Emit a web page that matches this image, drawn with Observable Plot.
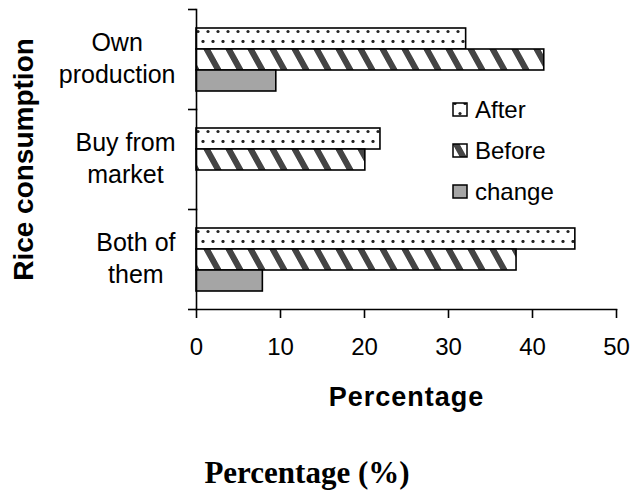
<!DOCTYPE html>
<html>
<head>
<meta charset="utf-8">
<script src="https://cdn.jsdelivr.net/npm/d3@7"></script>
<script src="https://cdn.jsdelivr.net/npm/@observablehq/plot@0.6"></script>
<style>
  body { margin: 0; background: #fff; }
  #wrap { position: relative; width: 630px; height: 492px; overflow: hidden; font-family: "Liberation Sans", Arial, sans-serif; color: #000; }
  #caption { position: absolute; left: 0; top: 455px; width: 614px; text-align: center; font: bold 31px "Liberation Serif", "Times New Roman", serif; line-height: 36px; }
  #legend { position: absolute; left: 452px; top: 89px; font-size: 24px; }
  #legend .row { display: flex; align-items: center; height: 41px; }
  #legend svg { margin-right: 7px; }
  g[aria-label="x-axis label"] text { font-weight: bold; font-size: 27px; letter-spacing: 1px; }
  g[aria-label="fy-axis label"] text { font-weight: bold; font-size: 28px; }
</style>
</head>
<body>
<div id="wrap">
  <div id="chart"></div>
  <div id="legend"></div>
  <div id="caption"></div>
</div>
<script>
// ---- data ----
const categories = ["Own production", "Buy from market", "Both of them"];
const categoryLines = [["Own", "production"], ["Buy from", "market"], ["Both of", "them"]];
const series = ["After", "Before", "change"];
const afterValues = [32.1, 21.9, 45.1];
const beforeValues = [41.4, 20.1, 38.1];
const changeValues = [9.5, null, 7.9];
const xTicks = [0, 10, 20, 30, 40, 50];
const xLabel = "Percentage";
const yLabel = "Rice consumption";
const captionText = "Percentage (%)";

// ---- table ----
const valuesBySeries = {After: afterValues, Before: beforeValues, change: changeValues};
const rows = categories.flatMap((cat, i) =>
  series.map(s => ({cat, series: s, value: valuesBySeries[s][i]}))
).filter(d => d.value != null);

// ---- layout ----
const W = 630, H = 430;
const mt = 9, mb = 121, ml = 196, mr = 14;
const band = (H - mt - mb) / categories.length;
const labelFont = 25;
const labelGap = 21;

const ctx = document.createElement("canvas").getContext("2d");
ctx.font = `${labelFont}px "Liberation Sans", Arial, sans-serif`;
const labelMarks = categories.map((cat, i) => {
  const lines = categoryLines[i];
  const maxW = Math.max(...lines.map(l => ctx.measureText(l).width));
  return Plot.text([cat], {
    fy: d => d,
    text: () => lines.join("\n"),
    frameAnchor: "left",
    textAnchor: "middle",
    dx: -(labelGap + maxW / 2),
    dy: -3,
    lineHeight: 1.3,
    fontSize: labelFont
  });
});

const fills = ["url(#pAfter)", "url(#pBefore)", "#a5a5a5"];

const chart = Plot.plot({
  width: W, height: H,
  marginTop: mt, marginBottom: mb, marginLeft: ml, marginRight: mr,
  style: {fontFamily: '"Liberation Sans", Arial, sans-serif', fontSize: "24px", color: "#000", background: "#fff"},
  x: {domain: [0, 50], axis: null},
  fy: {domain: categories, padding: 0, axis: null},
  y: {domain: series, paddingInner: 0, paddingOuter: 0.773, axis: null},
  color: {domain: series, range: fills},
  marks: [
    Plot.barX(rows, {fy: "cat", y: "series", x: "value", fill: "series", stroke: "#000", strokeWidth: 1.6}),
    Plot.frame({anchor: "left", stroke: "#000", strokeWidth: 1.6}),
    Plot.frame({anchor: "bottom", facetAnchor: "bottom", stroke: "#000", strokeWidth: 1.6}),
    Plot.axisFy({anchor: "left", tickSize: 8, tickFormat: () => "", dy: -band / 2, strokeWidth: 1.6,
      label: yLabel, labelAnchor: "center", labelOffset: 183}),
    Plot.axisFy({anchor: "left", ticks: [categories[categories.length - 1]], tickSize: 8, tickFormat: () => "",
      dy: band / 2, strokeWidth: 1.6, label: null}),
    Plot.axisX({ticks: xTicks, tickSize: 9, tickPadding: 19, strokeWidth: 1.6, fontSize: 24,
      label: xLabel, labelAnchor: "center", labelArrow: "none", labelOffset: 96}),
    ...labelMarks
  ]
});

// patterns
const svgNS = "http://www.w3.org/2000/svg";
const defsMarkup = `
  <pattern id="pAfter" patternUnits="userSpaceOnUse" width="10" height="20">
    <rect width="10" height="20" fill="#fff"/>
    <circle cx="3" cy="1.5" r="1.6" fill="#222"/>
    <circle cx="8" cy="11.5" r="1.6" fill="#222"/>
    <circle cx="3" cy="21.5" r="1.6" fill="#222"/>
  </pattern>
  <pattern id="pBefore" patternUnits="userSpaceOnUse" width="22" height="22" patternTransform="skewX(29)">
    <rect width="22" height="22" fill="#fff"/>
    <rect x="0" width="7" height="22" fill="#454545"/>
  </pattern>`;
const defs = document.createElementNS(svgNS, "defs");
defs.innerHTML = defsMarkup;
chart.insertBefore(defs, chart.firstChild);
document.getElementById("chart").appendChild(chart);

// legend
const legend = document.getElementById("legend");
series.forEach((s, i) => {
  const row = document.createElement("div");
  row.className = "row";
  row.innerHTML = `<svg width="16" height="15"><rect x="1" y="1" width="14" height="13" fill="${fills[i]}" stroke="#000" stroke-width="1.5"/></svg><span>${s}</span>`;
  legend.appendChild(row);
});

document.getElementById("caption").textContent = captionText;
</script>
</body>
</html>
